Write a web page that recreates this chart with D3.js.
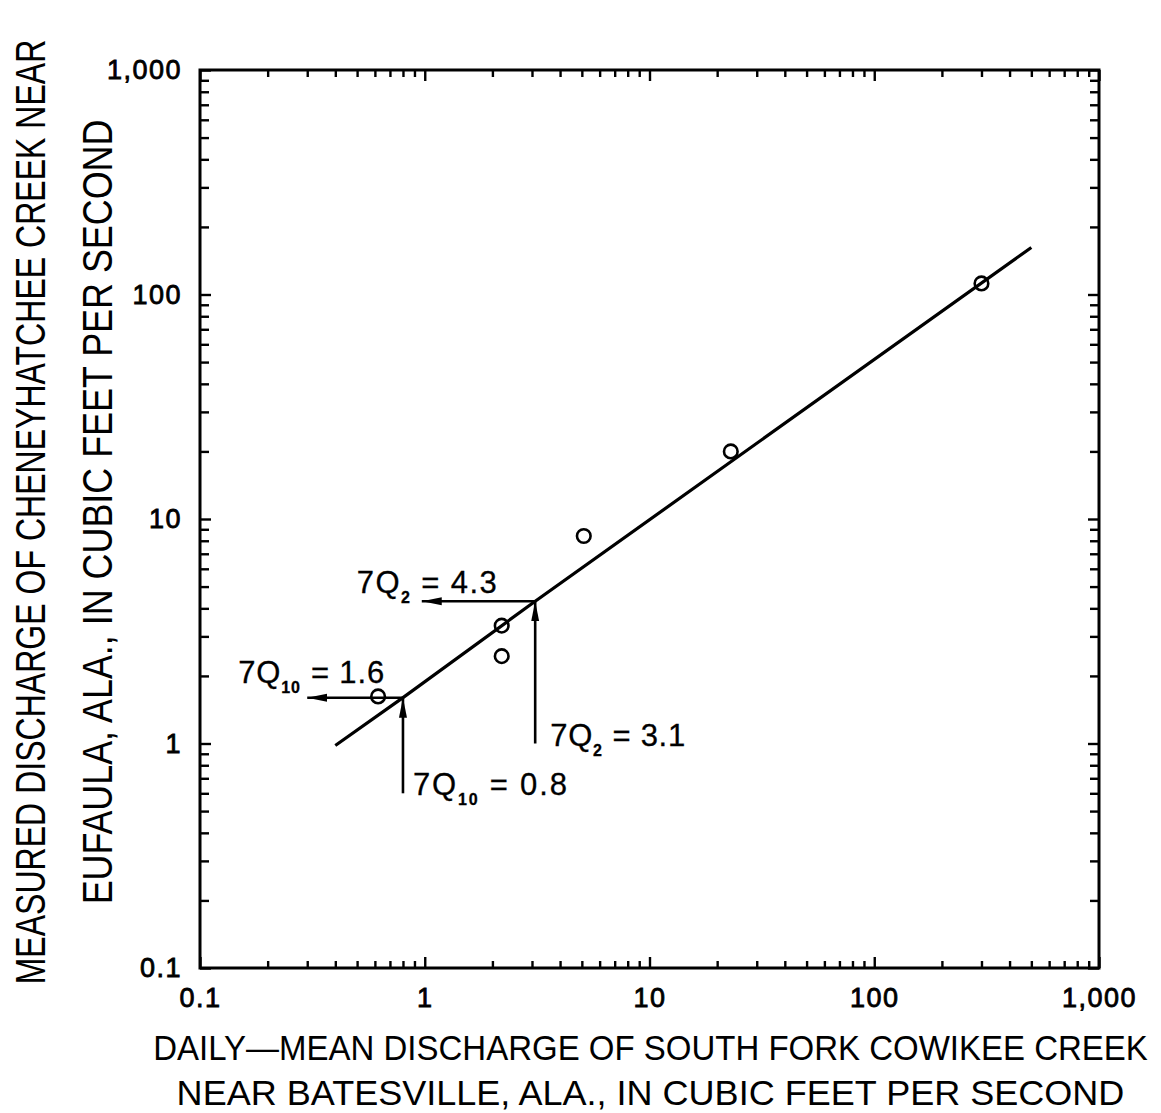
<!DOCTYPE html>
<html>
<head>
<meta charset="utf-8">
<script src="https://cdn.jsdelivr.net/npm/d3@7"></script>
<style>
  body { margin: 0; background: #fff; }
  svg text { fill: #000; }
</style>
</head>
<body>
<svg id="chart" width="1161" height="1113"></svg>
<script>
// Daily-mean discharge at the index station (x) and concurrent measured
// discharge at the partial-record site (y), cubic feet per second.
const measuredX = [0.62, 2.2, 2.2, 5.1, 23, 300];
const measuredY = [1.62, 3.35, 2.45, 8.4, 20, 112];

// Fitted relation line (log-log), through the two low-flow transfers.
const relationX = [0.4, 0.8, 3.1, 500];
const relationY = [0.98, 1.6, 4.3, 162];

// Low-flow statistics: index value (x) carried to the site value (y).
const flowNames   = ["7Q", "7Q"];
const flowSubs    = ["2", "10"];
const indexValues = [3.1, 0.8];
const siteValues  = [4.3, 1.6];
const arrowStartY = [1.0, 0.6];   // bottom of the vertical arrow
const arrowEndX   = [0.97, 0.3];  // tip of the horizontal arrow

const majorTicks = [0.1, 1, 10, 100, 1000];
const tickLabels = ["0.1", "1", "10", "100", "1,000"];

const xTitle = ["DAILY\u2014MEAN DISCHARGE OF SOUTH FORK COWIKEE CREEK",
                "NEAR BATESVILLE, ALA., IN CUBIC FEET PER SECOND"];
const yTitle = ["MEASURED DISCHARGE OF CHENEYHATCHEE CREEK NEAR",
                "EUFAULA, ALA., IN CUBIC FEET PER SECOND"];

const margin = { left: 200, top: 70 };
const W = 899, H = 898;
const svg = d3.select("#chart");
const g = svg.append("g").attr("transform", `translate(${margin.left},${margin.top})`);

const x = d3.scaleLog().domain([0.1, 1000]).range([0, W]);
const y = d3.scaleLog().domain([0.1, 1000]).range([H, 0]);

const isMajor = v => majorTicks.some(m => Math.abs(m - v) / m < 1e-9);
const minorX = x.ticks().filter(v => !isMajor(v));
const minorY = y.ticks().filter(v => !isMajor(v));
const labelOf = v => tickLabels[majorTicks.findIndex(m => Math.abs(m - v) / m < 1e-9)];

const tickFont = "'Liberation Sans', Arial, sans-serif";

function styleAxis(sel) {
  sel.select(".domain").remove();
  sel.selectAll(".tick line").attr("stroke", "#000").attr("stroke-width", 2.4);
}
function styleLabels(sel) {
  sel.selectAll("text")
    .attr("font-family", tickFont).attr("font-size", 27)
    .attr("letter-spacing", 1.5)
    .attr("stroke", "#000").attr("stroke-width", 0.8);
}

// inward ticks on all four sides
g.append("g").attr("transform", `translate(0,${H})`)
  .call(d3.axisBottom(x).tickValues(minorX).tickSize(-7).tickFormat(""))
  .call(styleAxis);
g.append("g").attr("transform", `translate(0,${H})`)
  .call(d3.axisBottom(x).tickValues(majorTicks).tickSize(-11).tickPadding(20).tickFormat(labelOf))
  .call(styleAxis).call(styleLabels);
g.append("g")
  .call(d3.axisTop(x).tickValues(minorX).tickSize(-7).tickFormat(""))
  .call(styleAxis);
g.append("g")
  .call(d3.axisTop(x).tickValues(majorTicks).tickSize(-11).tickFormat(""))
  .call(styleAxis);

g.append("g")
  .call(d3.axisLeft(y).tickValues(minorY).tickSize(-9).tickFormat(""))
  .call(styleAxis);
g.append("g")
  .call(d3.axisLeft(y).tickValues(majorTicks).tickSize(-11).tickPadding(18).tickFormat(labelOf))
  .call(styleAxis).call(styleLabels);
g.append("g").attr("transform", `translate(${W},0)`)
  .call(d3.axisRight(y).tickValues(minorY).tickSize(-9).tickFormat(""))
  .call(styleAxis);
g.append("g").attr("transform", `translate(${W},0)`)
  .call(d3.axisRight(y).tickValues(majorTicks).tickSize(-11).tickFormat(""))
  .call(styleAxis);

// frame
g.append("rect").attr("x", 0).attr("y", 0).attr("width", W).attr("height", H)
  .attr("fill", "none").attr("stroke", "#000").attr("stroke-width", 3);

// relation line
const line = d3.line().x(d => x(d[0])).y(d => y(d[1]));
g.append("path")
  .datum(d3.zip(relationX, relationY))
  .attr("d", line)
  .attr("fill", "none").attr("stroke", "#000").attr("stroke-width", 3.2);

// measurements
g.selectAll("circle.obs")
  .data(d3.zip(measuredX, measuredY))
  .join("circle")
  .attr("class", "obs")
  .attr("cx", d => x(d[0])).attr("cy", d => y(d[1]))
  .attr("r", 6.8)
  .attr("fill", "none").attr("stroke", "#000").attr("stroke-width", 2.6);

// arrowheads
const defs = svg.append("defs");
defs.append("marker")
  .attr("id", "head")
  .attr("viewBox", "0 0 20 10")
  .attr("refX", 20).attr("refY", 5)
  .attr("markerWidth", 20).attr("markerHeight", 10)
  .attr("markerUnits", "userSpaceOnUse")
  .attr("orient", "auto")
  .append("path").attr("d", "M0,1 L20,5 L0,9 Z").attr("fill", "#000");

const annFont = "'Liberation Sans', Arial, sans-serif";

indexValues.forEach((xv, i) => {
  const yv = siteValues[i];
  // vertical arrow: from index discharge up to the relation line
  g.append("line")
    .attr("x1", x(xv)).attr("y1", y(arrowStartY[i]))
    .attr("x2", x(xv)).attr("y2", y(yv))
    .attr("stroke", "#000").attr("stroke-width", 2.6)
    .attr("marker-end", "url(#head)");
  // horizontal arrow: from the line across to the y reading
  g.append("line")
    .attr("x1", x(xv)).attr("y1", y(yv))
    .attr("x2", x(arrowEndX[i])).attr("y2", y(yv))
    .attr("stroke", "#000").attr("stroke-width", 2.6)
    .attr("marker-end", "url(#head)");
});

function flowLabel(px, py, name, sub, value, width) {
  const t = g.append("text")
    .attr("x", px).attr("y", py)
    .attr("font-family", annFont).attr("font-size", 31)
    .attr("stroke", "#000").attr("stroke-width", 0.3)
    .attr("textLength", width).attr("lengthAdjust", "spacing");
  t.append("tspan").text(name);
  t.append("tspan").attr("font-size", 16).attr("font-weight", "bold").attr("dy", 10).text(sub);
  t.append("tspan").attr("dy", -10).attr("dx", 10).text("= " + value);
  return t;
}

// labels for the site values (left of the horizontal arrows)
flowLabel(x(arrowEndX[0]) - 65, y(siteValues[0]) - 8, flowNames[0], flowSubs[0], "4.3", 140);
flowLabel(x(arrowEndX[1]) - 69, y(siteValues[1]) - 15, flowNames[1], flowSubs[1], "1.6", 146);
// labels for the index values (right of the vertical arrows)
flowLabel(x(indexValues[0]) + 15, y(arrowStartY[0]) + 2, flowNames[0], flowSubs[0], "3.1", 135);
flowLabel(x(indexValues[1]) + 10, y(arrowStartY[1]) + 2, flowNames[1], flowSubs[1], "0.8", 154);

// axis titles, squeezed horizontally to a set run length
const titleFont = "'Liberation Sans', Arial, sans-serif";
function fittedTitle(str, cx, cy, angle, size, run) {
  const grp = svg.append("g");
  const t = grp.append("text")
    .attr("x", 0).attr("y", 0)
    .attr("text-anchor", "middle")
    .attr("font-family", titleFont).attr("font-size", size)
    .text(str);
  const natural = t.node().getComputedTextLength();
  const s = run / natural;
  grp.attr("transform", `translate(${cx},${cy}) rotate(${angle}) scale(${s},1)`);
  return grp;
}
fittedTitle(xTitle[0], margin.left + W / 2 + 1, 1060, 0, 35, 995);
fittedTitle(xTitle[1], margin.left + W / 2 + 1, 1105, 0, 35, 948);
fittedTitle(yTitle[0], 45, margin.top + H / 2 - 7, -90, 42, 945);
fittedTitle(yTitle[1], 112, margin.top + H / 2 - 7, -90, 42, 785);
</script>
</body>
</html>
